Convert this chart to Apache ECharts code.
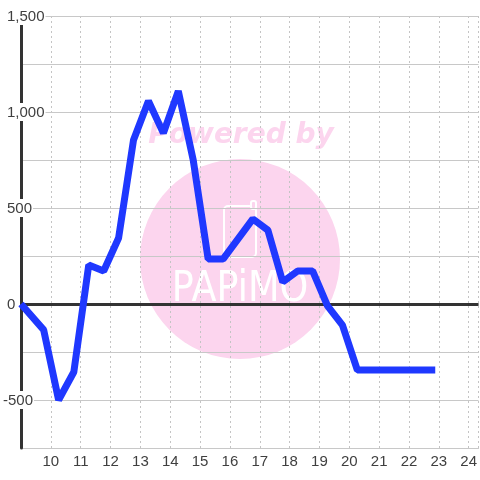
<!DOCTYPE html>
<html><head><meta charset="utf-8">
<style>html,body{margin:0;padding:0;background:#fff}#c{width:480px;height:480px}</style>
<script src="https://cdn.jsdelivr.net/npm/echarts@6/dist/echarts.min.js"></script>
</head><body><div id="c"></div>
<script>
const hours = [9, 9.76, 10.26, 10.77, 11.27, 11.77, 12.27, 12.77, 13.27, 13.77, 14.27, 14.77, 15.27, 15.77, 16.77, 17.27, 17.77, 18.27, 18.77, 19.27, 19.77, 20.27, 22.88];
const values = [0, -135, -500, -354, 203, 172, 344, 854, 1057, 890, 1109, 750, 234, 234, 443, 385, 115, 172, 172, -10, -110, -344, -344];
const points = hours.map((h, i) => [h, values[i]]);
const chart = echarts.init(document.getElementById('c'), null, {renderer: 'canvas'});
const font = '"Liberation Sans", Arial, sans-serif';
const labelStyle = {color: '#3f3f3f', fontFamily: font, fontSize: 15, backgroundColor: '#fff', height: 16, lineHeight: 16};
chart.setOption({
  animation: false,
  grid: {left: 20, right: 0, top: 16, bottom: 32},
  xAxis: {
    type: 'value', min: 9, max: 24.33, interval: 1,
    axisLine: {show: true, onZero: false, lineStyle: {color: '#c8c8c8', width: 1}},
    axisTick: {show: false},
    axisLabel: {color: '#3f3f3f', fontFamily: font, fontSize: 15, margin: 6, showMinLabel: false, showMaxLabel: false,
      formatter: v => Number.isInteger(v) ? String(v) : ''},
    splitLine: {show: true, lineStyle: {color: '#c4c4c4', type: [2, 3], width: 1}}
  },
  yAxis: {
    type: 'value', min: -750, max: 1500, interval: 250,
    axisLine: {show: true, onZero: false, lineStyle: {color: '#333', width: 3}},
    axisTick: {show: false},
    z: 1,
    axisLabel: {
      margin: 18, align: 'left', color: '#3f3f3f', fontFamily: font, fontSize: 15,
      formatter: v => {
        if (v % 500 !== 0) return '';
        if (v < 0) return '{n|' + v + '}';
        return '{p|' + v.toLocaleString('en-US') + '}';
      },
      rich: {
        p: Object.assign({padding: [2, 1, 0, 4]}, labelStyle),
        n: Object.assign({padding: [2, 1, 0, 0]}, labelStyle)
      }
    },
    splitLine: {show: true, lineStyle: {color: '#c8c8c8', width: 1}}
  },
  graphic: {elements: [
    {type: 'circle', z: -10, silent: true, shape: {cx: 240, cy: 259, r: 100}, style: {fill: '#fcd5ee'}},
    {type: 'text', z: -10, silent: true, x: 241, y: 136, style: {text: 'Powered by', fill: '#fcd5ee', font: 'italic bold 28px "DejaVu Sans"', align: 'center', verticalAlign: 'middle'}},
    {type: 'rect', z: -9, silent: true, shape: {x: 224, y: 206, width: 32, height: 51, r: 4}, style: {fill: 'none', stroke: '#fff', lineWidth: 2}},
    {type: 'rect', z: -9, silent: true, shape: {x: 251, y: 201, width: 5, height: 8, r: 2}, style: {fill: '#fcd5ee', stroke: '#fff', lineWidth: 2}},
    {type: 'text', z: -9, silent: true, x: 240, y: 290, scaleX: 0.87, style: {text: 'PAPiMO', fill: '#fff', font: '42px "DejaVu Sans ExtraLight", "DejaVu Sans"', align: 'center', verticalAlign: 'middle'}}
  ]},
  series: [{
    type: 'line', data: points, symbol: 'none', z: 5,
    lineStyle: {color: '#1f38ff', width: 7, join: 'bevel', cap: 'butt'},
    markLine: {silent: true, symbol: 'none', z: 2, label: {show: false}, lineStyle: {color: '#333', width: 3, type: 'solid'}, data: [{yAxis: 0}]}
  }]
});
</script></body></html>
